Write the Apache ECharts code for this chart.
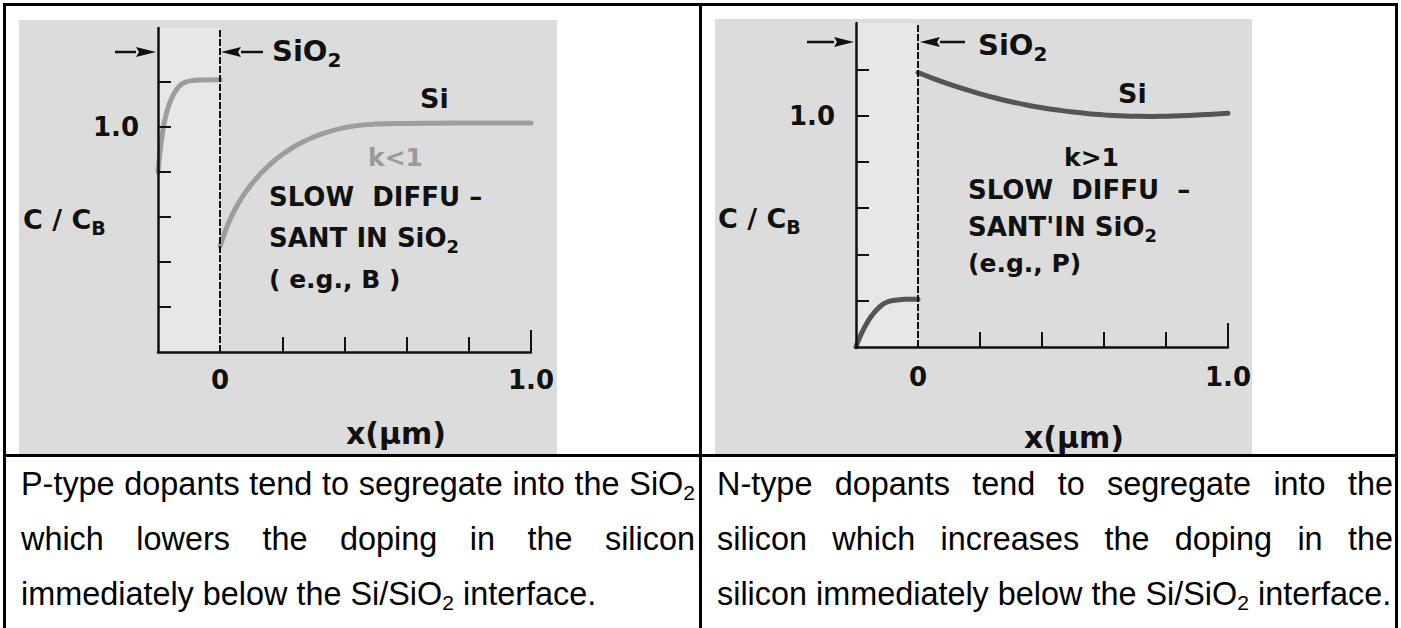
<!DOCTYPE html>
<html>
<head>
<meta charset="utf-8">
<title>Dopant segregation at the Si/SiO2 interface</title>
<script src="https://cdn.jsdelivr.net/npm/echarts@6/dist/echarts.min.js"></script>
<style>
  html, body { margin: 0; padding: 0; background: #fff; }
  #wrap { position: relative; width: 1401px; height: 628px; overflow: hidden; }
  #chart { position: absolute; left: 0; top: 0; width: 1401px; height: 628px; }
  .rule { position: absolute; background: #000; }
  .cap {
    position: absolute; top: 457px; width: 674px;
    font-family: "Liberation Sans", Arial, sans-serif;
    font-size: 32.4px; line-height: 55px; color: #000;
  }
  .cap .ln { height: 55px; }
  .cap .j { text-align: justify; text-align-last: justify; }
  .cap .last { white-space: nowrap; }
  .cap sub { font-size: 0.65em; line-height: 0; vertical-align: -0.25em; }
</style>
</head>
<body>
<div id="wrap">
  <div id="chart"></div>
  <!-- table rules -->
  <div class="rule" style="left:3px;top:3px;width:1395px;height:3px"></div>
  <div class="rule" style="left:3px;top:3px;width:3px;height:625px"></div>
  <div class="rule" style="left:1395px;top:3px;width:3px;height:625px"></div>
  <div class="rule" style="left:699px;top:3px;width:3px;height:625px"></div>
  <div class="rule" style="left:3px;top:454px;width:1395px;height:3px"></div>
  <div class="cap" style="left:21px">
    <div class="ln j">P-type dopants tend to segregate into the SiO<sub>2</sub></div>
    <div class="ln j">which lowers the doping in the silicon</div>
    <div class="ln last">immediately below the Si/SiO<sub>2</sub> interface.</div>
  </div>
  <div class="cap" style="left:717px;width:676px">
    <div class="ln j">N-type dopants tend to segregate into the</div>
    <div class="ln j">silicon which increases the doping in the</div>
    <div class="ln last">silicon immediately below the Si/SiO<sub>2</sub> interface.</div>
  </div>
</div>
<script>
// Axis marks
const xTicks = [0.2, 0.4, 0.6, 0.8];
const xEndTick = [1.0];
const xLabels = [0, 1.0];
const yTicks = [0.2, 0.4, 0.6, 0.8, 1.0, 1.2];
const yLabels = [1.0];

// P-type (k<1): normalised concentration C/CB vs depth x (µm)
const pOxide = [
  [-0.2, 0.80], [-0.195, 0.87], [-0.19, 0.93], [-0.185, 0.98], [-0.18, 1.02],
  [-0.17, 1.075], [-0.16, 1.115], [-0.15, 1.145], [-0.14, 1.167], [-0.13, 1.183],
  [-0.12, 1.194], [-0.1, 1.204], [-0.05, 1.209], [0, 1.21]
];
const pSilicon = [
  [0, 0.47], [0.02, 0.55], [0.04, 0.613], [0.06, 0.664], [0.08, 0.707], [0.1, 0.744],
  [0.125, 0.785], [0.15, 0.82], [0.175, 0.851], [0.2, 0.878], [0.25, 0.922], [0.3, 0.955],
  [0.35, 0.979], [0.4, 0.997], [0.45, 1.008], [0.5, 1.013], [0.6, 1.016], [0.7, 1.017],
  [0.8, 1.018], [0.9, 1.018], [1.0, 1.018]
];

// N-type (k>1)
const nOxide = [
  [-0.2, 0], [-0.19, 0.035], [-0.18, 0.065], [-0.17, 0.091], [-0.16, 0.114], [-0.15, 0.134],
  [-0.14, 0.151], [-0.13, 0.165], [-0.12, 0.177], [-0.11, 0.187], [-0.1, 0.194],
  [-0.08, 0.201], [-0.06, 0.204], [-0.04, 0.206], [-0.02, 0.206], [0, 0.206]
];
const nSilicon = [
  [0, 1.186], [0.05, 1.160], [0.1, 1.136], [0.15, 1.114], [0.2, 1.094], [0.25, 1.076],
  [0.3, 1.060], [0.35, 1.046], [0.4, 1.034], [0.45, 1.024], [0.5, 1.015], [0.55, 1.008],
  [0.6, 1.003], [0.65, 0.999], [0.7, 0.997], [0.75, 0.996], [0.8, 0.997], [0.85, 0.999],
  [0.9, 1.002], [0.95, 1.006], [1.0, 1.010]
];

const FONT = '"DejaVu Sans", "Liberation Sans", sans-serif';
const INK = '#111';
const PANEL = '#dcdcdc';
const OXIDE_BAND = '#e7e7e7';

const fmt = v => (v === 0 ? '0' : v.toFixed(1));

function mainX(grid, labelMargin) {
  return {
    type: 'value', gridIndex: grid, min: -0.2, max: 1.0, position: 'bottom', z: 4,
    axisLine: { show: true, onZero: false, lineStyle: { color: INK, width: 2.5 } },
    axisTick: { show: true, inside: true, length: 15, customValues: xTicks, lineStyle: { color: INK, width: 2 } },
    axisLabel: { customValues: xLabels, formatter: fmt, margin: labelMargin, fontSize: 26, fontWeight: 'bold', fontFamily: FONT, color: INK },
    splitLine: { show: false }
  };
}
function endTickX(grid, len) {
  return {
    type: 'value', gridIndex: grid, min: -0.2, max: 1.0, position: 'bottom', z: 4,
    axisLine: { show: false },
    axisTick: { show: true, inside: true, length: len, customValues: xEndTick, lineStyle: { color: INK, width: 2 } },
    axisLabel: { show: false },
    splitLine: { show: false }
  };
}
function mainY(grid, max, labelMargin) {
  return {
    type: 'value', gridIndex: grid, min: 0, max: max, z: 4,
    axisLine: { show: true, onZero: false, lineStyle: { color: INK, width: 2.5 } },
    axisTick: { show: true, inside: true, length: 13, customValues: yTicks, lineStyle: { color: INK, width: 2 } },
    axisLabel: { customValues: yLabels, formatter: fmt, margin: labelMargin, fontSize: 26, fontWeight: 'bold', fontFamily: FONT, color: INK },
    splitLine: { show: false }
  };
}
function curve(xi, yi, data, color, extra) {
  return Object.assign({
    type: 'line', xAxisIndex: xi, yAxisIndex: yi, data: data,
    smooth: 0.5, symbol: 'none', silent: true,
    lineStyle: { color: color, width: 5, cap: 'round', join: 'round' }
  }, extra || {});
}
function interfaceMarks(ymax) {
  return {
    markArea: {
      silent: true, itemStyle: { color: OXIDE_BAND },
      data: [[{ xAxis: -0.2, yAxis: 0 }, { xAxis: 0, yAxis: ymax }]]
    },
    markLine: {
      silent: true, symbol: 'none', label: { show: false },
      lineStyle: { color: INK, type: [7, 2], width: 2 },
      data: [{ xAxis: 0 }]
    }
  };
}

// free text on the plots
function txt(x, y, text, size, color, align) {
  return {
    type: 'text', x: x, y: y, z: 20, silent: true,
    style: {
      text: text, fill: color || INK, fontSize: size, fontWeight: 'bold', fontFamily: FONT,
      align: align || 'left', verticalAlign: 'middle',
      textAlign: align || 'left', textVerticalAlign: 'middle',
      rich: { s: { fontSize: Math.round(size * 0.7), fontWeight: 'bold', fontFamily: FONT, fill: color || INK, padding: [Math.round(size * 0.62), 0, 0, 0] } }
    }
  };
}
// dimension arrow: tail -> tip along y
function arrow(xTail, xTip, y) {
  const dir = xTip > xTail ? 1 : -1;
  const base = xTip - dir * 20;
  return [
    { type: 'line', z: 20, silent: true, shape: { x1: xTail, y1: y, x2: base, y2: y }, style: { stroke: INK, lineWidth: 2.5 } },
    { type: 'polygon', z: 20, silent: true, shape: { points: [[xTip, y], [base, y - 5], [base + dir * 3, y], [base, y + 5]] }, style: { fill: INK } }
  ];
}

const graphics = [
  { type: 'rect', z: -5, silent: true, shape: { x: 19, y: 20, width: 538, height: 435 }, style: { fill: PANEL } },
  { type: 'rect', z: -5, silent: true, shape: { x: 715, y: 19, width: 537, height: 436 }, style: { fill: PANEL } },
  // left panel (P-type)
  ...arrow(115, 156, 52),
  ...arrow(263, 221, 52),
  txt(272, 51, 'SiO{s|2}', 29),
  txt(420, 98, 'Si', 27),
  txt(368, 157, 'k<1', 25, '#9a9a9a'),
  txt(269, 197, 'SLOW  DIFFU –', 26),
  txt(269, 238, 'SANT IN SiO{s|2}', 26),
  txt(269, 279, '( e.g., B )', 25),
  txt(23, 219, 'C / C{s|B}', 27),
  txt(396, 433, 'x(μm)', 30, INK, 'center'),
  // right panel (N-type)
  ...arrow(807, 854, 42),
  ...arrow(965, 920, 42),
  txt(978, 45, 'SiO{s|2}', 29),
  txt(1118, 93, 'Si', 27),
  txt(1064, 157, 'k>1', 25),
  txt(968, 190, 'SLOW  DIFFU  –', 26),
  txt(968, 227, "SANT'IN SiO{s|2}", 26),
  txt(968, 263, '(e.g., P)', 25),
  txt(718, 218, 'C / C{s|B}', 27),
  txt(1074, 437, 'x(μm)', 30, INK, 'center')
];

const chart = echarts.init(document.getElementById('chart'), null, { renderer: 'svg' });
chart.setOption({
  animation: false,
  backgroundColor: 'transparent',
  grid: [
    { left: 158, top: 28, width: 373, height: 324 },
    { left: 856, top: 23, width: 372, height: 324 }
  ],
  xAxis: [mainX(0, 15), endTickX(0, 22), mainX(1, 17), endTickX(1, 24)],
  yAxis: [mainY(0, 1.44, 19), mainY(1, 1.4, 21)],
  series: [
    curve(0, 0, pOxide, '#9d9d9d', interfaceMarks(1.44)),
    curve(0, 0, pSilicon, '#9d9d9d'),
    curve(2, 1, nOxide, '#555555', interfaceMarks(1.4)),
    curve(2, 1, nSilicon, '#555555')
  ],
  graphic: graphics
});
</script>
</body>
</html>
